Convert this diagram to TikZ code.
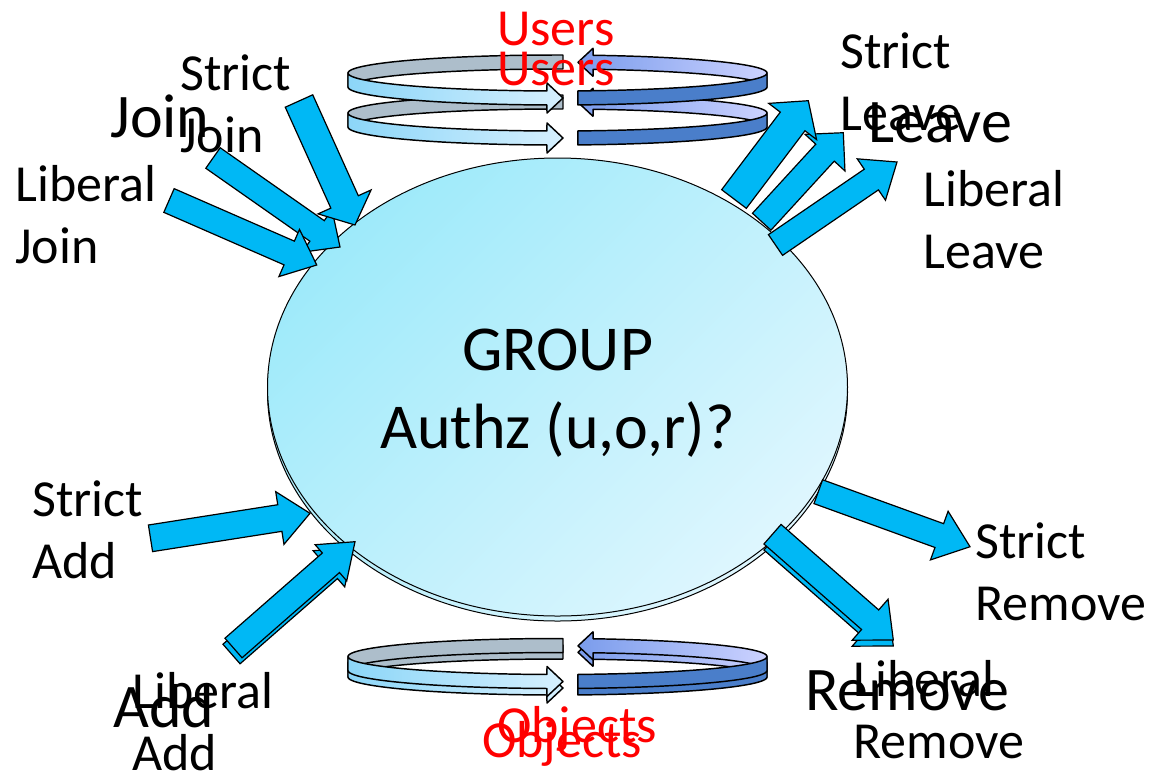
\documentclass[tikz,border=0pt]{standalone}
\usepackage{fontspec}
\setmainfont{Carlito}
\usetikzlibrary{calc,shapes.geometric}

\definecolor{arrowblue}{RGB}{0,184,245}
\definecolor{discA}{RGB}{158,234,250}
\definecolor{discB}{RGB}{222,246,254}
\definecolor{bandgray}{RGB}{173,190,203}
\definecolor{bandlightA}{RGB}{140,214,248}
\definecolor{bandlightB}{RGB}{214,240,254}
\definecolor{bandblueA}{RGB}{122,156,236}
\definecolor{bandblueB}{RGB}{204,210,255}
\definecolor{banddark}{RGB}{74,126,202}

% fat arrow: #2 tail, #3 tip, #4 half shaft, #5 half head, #6 head length
\newcommand\blockarrow[6][]{%
  \coordinate (head) at ($(#3)!#6!(#2)$);
  \draw[barrow,#1] ($(#2)!#4!90:(#3)$) -- ($(head)!#4!90:(#3)$) -- ($(head)!#5!90:(#3)$)
    -- (#3) -- ($(head)!#5!-90:(#3)$) -- ($(head)!#4!-90:(#3)$) -- ($(#2)!#4!-90:(#3)$) -- cycle;}

% one turn of the ribbon loop, #1 = centre line
\newcommand\spiral[1]{%
  % back half
  \draw[ribbon, fill=bandgray]
    plot[domain=-88.5:-180] ({557.5+209.5*cos(\x)},{#1+18*sin(\x)})
    -- plot[domain=-180:-88.5] ({557.5+209.5*cos(\x)},{#1+14+18*sin(\x)}) -- cycle;
  \draw[ribbon, left color=bandblueA, right color=bandblueB]
    plot[domain=-80.2:0] ({557.5+209.5*cos(\x)},{#1+18*sin(\x)})
    -- plot[domain=0:-80.2] ({557.5+209.5*cos(\x)},{#1+14+18*sin(\x)})
    -- (593,{#1+3.3}) -- (578,{#1-10.7}) -- (593,{#1-24.7}) -- cycle;
  % front half
  \draw[ribbon, left color=bandlightA, right color=bandlightB]
    plot[domain=180:92.9] ({557.5+209.5*cos(\x)},{#1+18*sin(\x)})
    -- (547,{#1+10}) -- (563,{#1+25}) -- (547,{#1+40})
    -- plot[domain=92.9:180] ({557.5+209.5*cos(\x)},{#1+14+18*sin(\x)}) -- cycle;
  \draw[ribbon, fill=banddark]
    plot[domain=0:84.4] ({557.5+209.5*cos(\x)},{#1+18*sin(\x)})
    -- plot[domain=84.4:0] ({557.5+209.5*cos(\x)},{#1+14+18*sin(\x)}) -- cycle;}

\begin{document}
\begin{tikzpicture}[x=0.75pt, y=-0.75pt,
    barrow/.style={draw, fill=arrowblue, line width=0.9pt, line join=miter},
    ribbon/.style={draw, line width=1.1pt, line join=round, samples=40},
    disc/.style={ellipse, draw, line width=0.75pt, inner sep=0pt,
      minimum width=435pt, minimum height=343.5pt,
      top color=discA, bottom color=discB, shading angle=45},
    lbl/.style={font=\fontsize{39}{46.5}\selectfont, anchor=base west, inner sep=0pt, align=left},
    big/.style={font=\fontsize{46.5}{56}\selectfont, anchor=base west, inner sep=0pt},
    ttl/.style={font=\fontsize{39}{47}\selectfont, text=red, anchor=base west, inner sep=0pt}]
  \useasboundingbox (0,0) rectangle (1156,776);

  % the group disc
  \node[disc] (disc2) at (557.5,392) {};
  \node[disc] (disc1) at (557.5,387) {};
  \node[font=\fontsize{48}{58.5}\selectfont, align=center, anchor=base, inner sep=0pt]
    (grp) at (557.5,448) {GROUP\\Authz (u,o,r)?};

  % loops for users and objects
  \spiral{113}
  \spiral{73}
  \spiral{663}
  \spiral{656.5}

  % arrow ends
  \coordinate (joinM-t) at (213,158);     \coordinate (joinM-h) at (340,247);
  \coordinate (joinL-t) at (169,200.5);   \coordinate (joinL-h) at (316.7,265);
  \coordinate (joinS-t) at (299,101);     \coordinate (joinS-h) at (355,225);
  \coordinate (leaveM-t) at (761.7,221.7); \coordinate (leaveM-h) at (843.3,132.7);
  \coordinate (leaveS-t) at (734,199);    \coordinate (leaveS-h) at (808.3,100.7);
  \coordinate (leaveL-t) at (775.5,245);  \coordinate (leaveL-h) at (897,162);
  \coordinate (addS-t) at (150.5,538.3);  \coordinate (addS-h) at (310,513.3);
  \coordinate (addB-t) at (231.5,654);    \coordinate (addB-h) at (353,547.7);
  \coordinate (addL-t) at (233.5,648);    \coordinate (addL-h) at (355,541.7);
  \coordinate (remS-t) at (818.3,491.7);  \coordinate (remS-h) at (970,546.7);
  \coordinate (remB-t) at (772.5,540.2);  \coordinate (remB-h) at (893.3,646);
  \coordinate (remL-t) at (772.5,534.2);  \coordinate (remL-h) at (893.3,640);

  % join
  \blockarrow{joinM-t}{joinM-h}{9.4pt}{19.5pt}{21pt}
  \blockarrow{joinL-t}{joinL-h}{9.7pt}{19.3pt}{22.5pt}
  \blockarrow{joinS-t}{joinS-h}{11.3pt}{21.8pt}{19pt}
  % leave
  \blockarrow{leaveM-t}{leaveM-h}{9.4pt}{20.3pt}{20.3pt}
  \blockarrow{leaveS-t}{leaveS-h}{11.6pt}{22.5pt}{19.5pt}
  \blockarrow{leaveL-t}{leaveL-h}{9.4pt}{18.8pt}{23.3pt}
  % add
  \blockarrow{addS-t}{addS-h}{10.1pt}{20pt}{22.9pt}
  \blockarrow{addB-t}{addB-h}{9.75pt}{18pt}{24pt}
  \blockarrow{addL-t}{addL-h}{9.75pt}{18pt}{24pt}
  % remove
  \blockarrow{remS-t}{remS-h}{9.5pt}{19.4pt}{24.5pt}
  \blockarrow{remB-t}{remB-h}{9.75pt}{20.4pt}{23.1pt}
  \blockarrow{remL-t}{remL-h}{9.75pt}{20.4pt}{23.1pt}

  % labels (anchored on their last line)
  \node[lbl] (sjoin) at (180,152) {Strict\\Join};
  \node[big] (join) at (110,137) {Join};
  \node[lbl] (ljoin) at (15,263) {Liberal\\Join};
  \node[lbl] (sleave) at (840,130) {Strict\\Leave};
  \node[big] (leave) at (868,142) {Leave};
  \node[lbl] (lleave) at (923,268) {Liberal\\Leave};
  \node[lbl] (sadd) at (32,578) {Strict\\Add};
  \node[big] (add) at (113,727) {Add};
  \node[lbl] (ladd) at (132,770) {Liberal\\Add};
  \node[lbl] (srem) at (975,620) {Strict\\Remove};
  \node[big] (rem) at (805,710) {Remove};
  \node[lbl] (lrem) at (853,758) {Liberal\\Remove};

  \node[ttl] (users1) at (497,45) {Users};
  \node[ttl] (users2) at (497,85) {Users};
  \node[ttl] (objects1) at (497,742) {Objects};
  \node[ttl] (objects2) at (482,757) {Objects};
\end{tikzpicture}
\end{document}
